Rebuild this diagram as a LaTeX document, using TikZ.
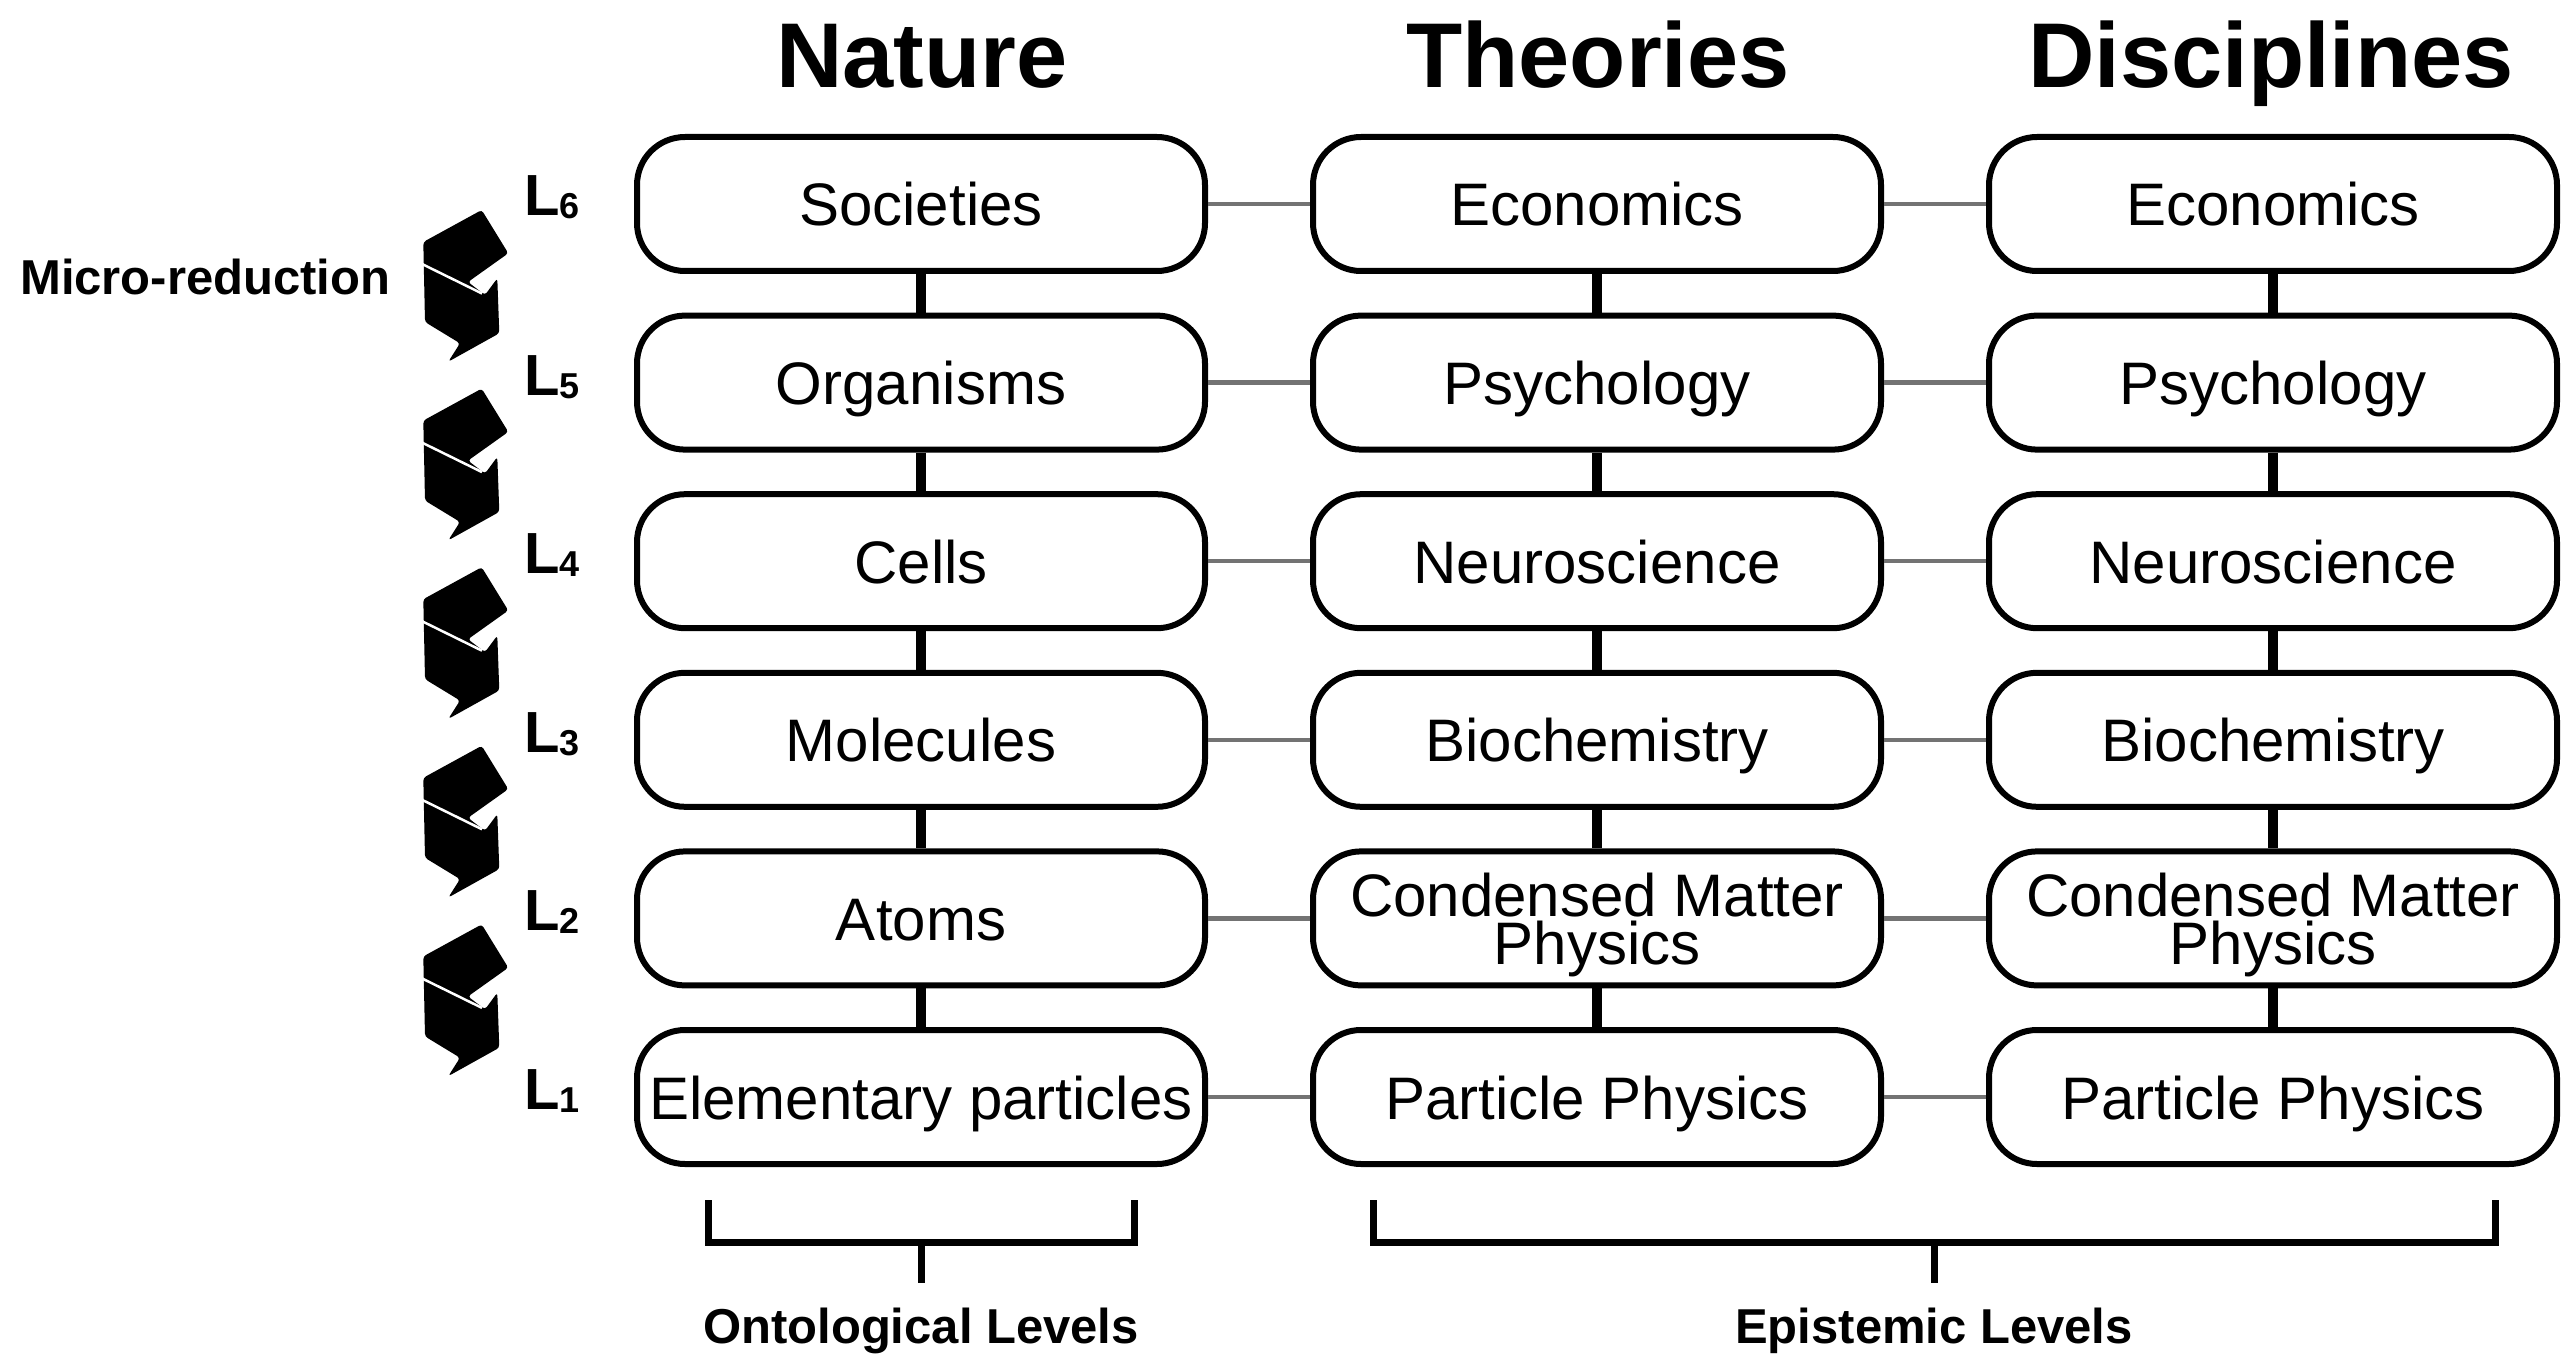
\documentclass[tikz,border=0pt]{standalone}
\usepackage{fontspec}
\setmainfont{Liberation Sans}
\begin{document}
\begin{tikzpicture}[x=1pt,y=-1pt,
  box/.style={draw, line width=6pt, rounded corners=48pt, minimum width=568pt, minimum height=134pt, inner sep=0pt, align=center, font=\fontsize{60}{48}\selectfont, text height=44pt, text depth=0pt},
  twoline/.style={text height=93pt, text depth=0pt},
  vlink/.style={line width=10pt, black},
  hlink/.style={line width=4.5pt, black!55},
  coltitle/.style={font=\fontsize{92}{92}\selectfont\bfseries, anchor=base},
  lvl/.style={font=\fontsize{58}{58}\selectfont\bfseries, anchor=base west, inner sep=0pt},
  lowlabel/.style={font=\fontsize{49}{49}\selectfont\bfseries, anchor=base},
  bracket/.style={line width=7pt, line cap=butt},
  chev/.style={fill=black, rounded corners=3pt},
  chevgap/.style={white, line width=2.5pt}
]
\useasboundingbox (0,0) rectangle (2570,1356);

% column titles
\node[coltitle] (tNat) at (922,88) {Nature};
\node[coltitle] (tThe) at (1598,88) {Theories};
\node[coltitle] (tDis) at (2271,88) {Disciplines};

% Nature column
\node[box] (n6) at (921,204.0) {Societies};
\node[box] (n5) at (921,382.6) {Organisms};
\node[box] (n4) at (921,561.2) {Cells};
\node[box] (n3) at (921,739.8) {Molecules};
\node[box] (n2) at (921,918.4) {Atoms};
\node[box] (n1) at (921,1097.0) {Elementary particles};

% Theories column
\node[box] (t6) at (1597,204.0) {Economics};
\node[box] (t5) at (1597,382.6) {Psychology};
\node[box] (t4) at (1597,561.2) {Neuroscience};
\node[box] (t3) at (1597,739.8) {Biochemistry};
\node[box, twoline] (t2) at (1597,918.4) {Condensed Matter\\Physics};
\node[box] (t1) at (1597,1097.0) {Particle Physics};

% Disciplines column
\node[box] (d6) at (2273,204.0) {Economics};
\node[box] (d5) at (2273,382.6) {Psychology};
\node[box] (d4) at (2273,561.2) {Neuroscience};
\node[box] (d3) at (2273,739.8) {Biochemistry};
\node[box, twoline] (d2) at (2273,918.4) {Condensed Matter\\Physics};
\node[box] (d1) at (2273,1097.0) {Particle Physics};

% vertical links
\foreach \c in {n,t,d}{
  \foreach \a/\b in {6/5,5/4,4/3,3/2,2/1}{
    \draw[vlink] (\c\a.south) -- (\c\b.north);
  }
}
% horizontal links
\foreach \r in {1,...,6}{
  \draw[hlink] (n\r.east) -- (t\r.west);
  \draw[hlink] (t\r.east) -- (d\r.west);
}

% level labels
\foreach \r/\y in {6/216,5/395,4/573,3/752,2/930,1/1109}{
  \node[lvl] (L\r) at (524,\y) {L\raisebox{-3pt}{\fontsize{36}{36}\selectfont\r}};
}

% micro-reduction label
\node[font=\fontsize{49}{49}\selectfont\bfseries, anchor=base west, inner sep=0pt] (mr) at (20,295) {Micro-reduction};

% chevrons
\foreach \i in {0,...,4}{
  \begin{scope}[shift={(0,204+\i*178.6)}]
    \fill[chev] (423.3,38) -- (481.7,6) -- (508.3,49.3) -- (468,78) -- (485,91) -- (497.3,74.3)
      -- (499.3,129.3) -- (448.3,157.7) -- (460,139.3) -- (425,118) -- cycle;
    \draw[chevgap] (422,60) -- (482,89.5);
  \end{scope}
}

% brackets
\coordinate (oL) at (708,1200);
\coordinate (oR) at (1134,1200);
\coordinate (oM) at (921,1242);
\coordinate (oS) at (921,1283);
\draw[bracket] (oL) -- (oL |- oM) -- (oR |- oM) -- (oR);
\draw[bracket] (oM) -- (oS);
\node[lowlabel] (ont) at (921,1343) {Ontological Levels};

\coordinate (eL) at (1373,1200);
\coordinate (eR) at (2495,1200);
\coordinate (eM) at (1934,1242);
\coordinate (eS) at (1934,1283);
\draw[bracket] (eL) -- (eL |- eM) -- (eR |- eM) -- (eR);
\draw[bracket] (eM) -- (eS);
\node[lowlabel] (epi) at (1934,1343) {Epistemic Levels};
\end{tikzpicture}
\end{document}
